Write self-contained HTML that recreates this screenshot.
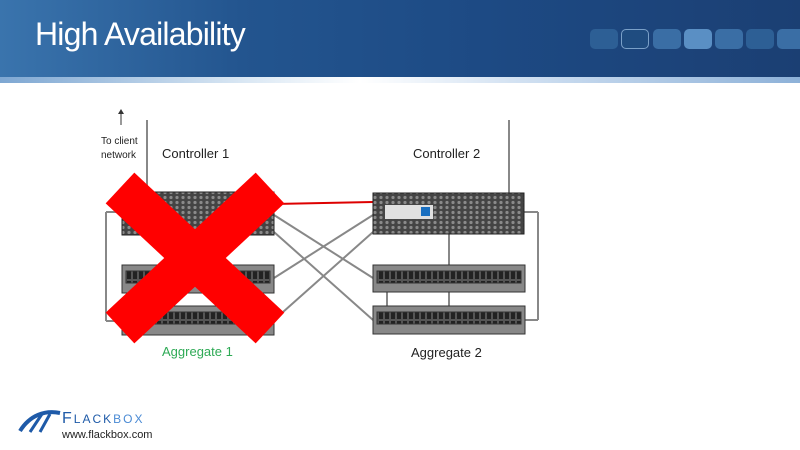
<!DOCTYPE html>
<html><head><style>
body{margin:0;width:800px;height:450px;overflow:hidden;background:#fff;font-family:"Liberation Sans",sans-serif;position:relative}
.hdr{position:absolute;left:0;top:0;width:800px;height:77px;background:linear-gradient(90deg,#3a74ad 0%,#23558f 30%,#1d4a84 60%,#1b3f73 100%)}
.bar{position:absolute;left:0;top:77px;width:800px;height:6px;background:linear-gradient(90deg,#7ea7d2,#d8e6f3 30%,#ffffff 45%,#c6d9ee 70%,#8db1d8)}
.t{position:absolute;left:35px;top:16px;color:#fff;font-size:32px;letter-spacing:-0.8px}
.sq{position:absolute;top:29px;height:20px;width:28px;border-radius:5px;background:#2d5f95}
</style></head><body>
<div class="hdr"></div><div class="bar"></div>
<div class="t">High Availability</div>
<div class="sq" style="left:590px"></div>
<div class="sq" style="left:621px;background:#1f4c80;border:1px solid #7aa0c8;width:26px;height:18px"></div>
<div class="sq" style="left:653px;background:#3a6ea5"></div>
<div class="sq" style="left:684px;background:#5a8fc4"></div>
<div class="sq" style="left:715px;background:#3a6ea5"></div>
<div class="sq" style="left:746px"></div>
<div class="sq" style="left:777px;background:#3a6ea5"></div>
<svg width="800" height="450" style="position:absolute;left:0;top:0">
<defs>
<pattern id="mesh" width="6" height="5" patternUnits="userSpaceOnUse"><rect width="6" height="5" fill="#444"/><circle cx="3" cy="2.5" r="1.6" fill="#8a8a8a"/></pattern>
<pattern id="disk" width="6" height="10" patternUnits="userSpaceOnUse"><rect width="6" height="10" fill="#555"/><rect x="1" y="1" width="4" height="8" fill="#222"/></pattern>
</defs>
<g stroke="#888" stroke-width="2" fill="none">
<line x1="122" y1="212" x2="106" y2="212"/><line x1="106" y1="212" x2="106" y2="321"/><line x1="106" y1="321" x2="122" y2="321"/>
<line x1="524" y1="212" x2="538" y2="212"/><line x1="538" y1="212" x2="538" y2="320"/><line x1="538" y1="320" x2="525" y2="320"/>
<line x1="274" y1="215" x2="373" y2="278"/><line x1="274" y1="232" x2="373" y2="320"/>
<line x1="274" y1="278" x2="373" y2="215"/><line x1="274" y1="320" x2="373" y2="232"/>
<line x1="449" y1="234" x2="449" y2="306"/><line x1="387" y1="292" x2="387" y2="306"/>
<line x1="509" y1="120" x2="509" y2="193"/><line x1="147" y1="120" x2="147" y2="192"/>
</g>
<line x1="274" y1="204" x2="373" y2="202" stroke="#d00" stroke-width="2"/>
<line x1="121" y1="125" x2="121" y2="112" stroke="#333" stroke-width="1"/><polygon points="118,114 124,114 121,109" fill="#333"/>
<rect x="122" y="192" width="152" height="43" fill="url(#mesh)" stroke="#222"/>
<rect x="373" y="193" width="151" height="41" fill="url(#mesh)" stroke="#222"/>
<rect x="385" y="205" width="48" height="14" fill="#e0e0e0"/><rect x="421" y="207" width="9" height="9" fill="#1a6fc0"/>
<g stroke="#333">
<rect x="122" y="265" width="152" height="28" fill="#888"/><rect x="126" y="271" width="144" height="12" fill="url(#disk)"/>
<rect x="122" y="306" width="152" height="29" fill="#888"/><rect x="126" y="312" width="144" height="12" fill="url(#disk)"/>
<rect x="373" y="265" width="152" height="27" fill="#888"/><rect x="377" y="271" width="144" height="12" fill="url(#disk)"/>
<rect x="373" y="306" width="152" height="28" fill="#888"/><rect x="377" y="312" width="144" height="12" fill="url(#disk)"/>
</g>
<g stroke="#f00" stroke-width="42" stroke-linecap="butt">
<line x1="120" y1="188" x2="270" y2="328"/><line x1="270" y1="188" x2="120" y2="328"/>
</g>
<g font-family="Liberation Sans,sans-serif">
<text x="101" y="144" font-size="10" fill="#222">To client</text>
<text x="101" y="158" font-size="10" fill="#222">network</text>
<text x="162" y="158" font-size="13" fill="#222">Controller 1</text>
<text x="413" y="158" font-size="13" fill="#222">Controller 2</text>
<text x="162" y="356" font-size="13" fill="#2eaa55">Aggregate 1</text>
<text x="411" y="357" font-size="13" fill="#222">Aggregate 2</text>
<path d="M20,431 C30,415 45,410 60,413" stroke="#1e5aa8" stroke-width="4" fill="none"/>
<path d="M30,432 L42,414 M40,432 L50,414" stroke="#1e5aa8" stroke-width="3"/>
<text x="62" y="423" font-size="16" fill="#1e5aa8" letter-spacing="2">F<tspan font-size="12">LACK</tspan><tspan font-size="12" fill="#4a8ad4">BOX</tspan></text>
<text x="62" y="438" font-size="11" fill="#222">www.flackbox.com</text>
</g>
</svg>
</body></html>
